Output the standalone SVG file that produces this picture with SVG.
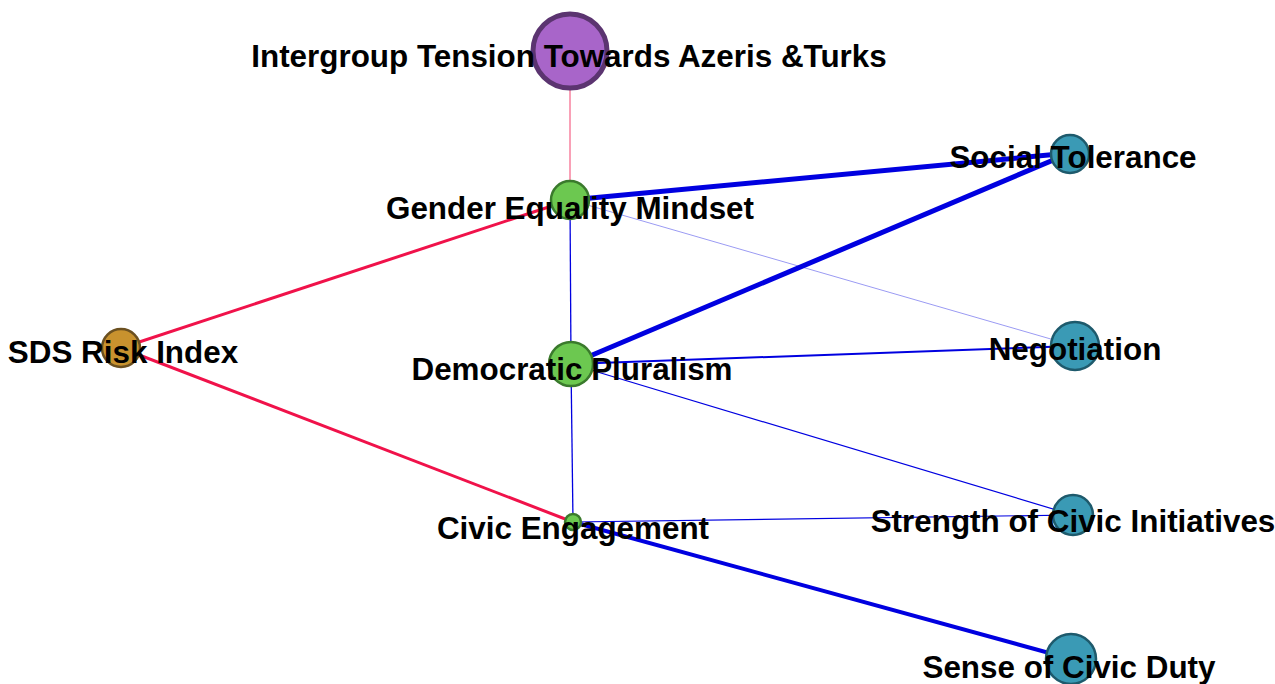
<svg xmlns="http://www.w3.org/2000/svg" width="1275" height="684" viewBox="0 0 1275 684">
<style>
.lbl{font-family:"Liberation Sans",Arial,Helvetica,sans-serif;font-weight:bold;font-size:31.4px;fill:#000;text-anchor:middle}
.red{stroke:#f0124a;fill:none}
.blue{stroke:#0000e0;fill:none}
.green{fill:#6cc850;stroke:#3a7a2c;stroke-width:2.5}
.teal{fill:#3a9ab5;stroke:#1e5a6c;stroke-width:2.5}
</style>
<rect width="1275" height="684" fill="#ffffff"/>
<g id="connectors">
<line class="red" x1="570" y1="51" x2="570" y2="200" stroke-width="0.8" stroke="#ff5a7a"/>
<line class="red" x1="121" y1="348" x2="570" y2="200" stroke-width="3"/>
<line class="red" x1="121" y1="348" x2="573" y2="522" stroke-width="3"/>
<line class="blue" x1="570" y1="200" x2="1070" y2="153" stroke-width="5"/>
<line class="blue" x1="571" y1="364" x2="1070" y2="153" stroke-width="5"/>
<line class="blue" x1="570" y1="200" x2="571" y2="364" stroke-width="1.3"/>
<line class="blue" x1="570" y1="200" x2="1075" y2="346" stroke-width="0.4"/>
<line class="blue" x1="571" y1="364" x2="1075" y2="346" stroke-width="2"/>
<line class="blue" x1="571" y1="364" x2="1073" y2="515" stroke-width="1.2"/>
<line class="blue" x1="571" y1="364" x2="573" y2="522" stroke-width="1.3"/>
<line class="blue" x1="573" y1="522" x2="1073" y2="515" stroke-width="1.2"/>
<line class="blue" x1="573" y1="522" x2="1071" y2="659" stroke-width="4"/>
</g>
<g id="node-intergroup"><circle cx="570" cy="51" r="37" fill="#a865c9" stroke="#5b3470" stroke-width="5"/><text class="lbl" x="569" y="67">Intergroup Tension Towards Azeris &amp;Turks</text></g>
<g id="node-sds"><circle cx="121" cy="348" r="19" fill="#c8922e" stroke="#6b5020" stroke-width="2.5"/><text class="lbl" x="123" y="363">SDS Risk Index</text></g>
<g id="node-gender"><circle class="green" cx="570" cy="200" r="19"/><text class="lbl" x="570" y="219">Gender Equality Mindset</text></g>
<g id="node-democratic"><circle class="green" cx="571" cy="364" r="22"/><text class="lbl" x="572" y="380">Democratic Pluralism</text></g>
<g id="node-civic"><circle class="green" cx="573" cy="522" r="8" stroke-width="1.5"/><text class="lbl" x="573" y="539">Civic Engagement</text></g>
<g id="node-social"><circle class="teal" cx="1070" cy="154" r="19"/><text class="lbl" x="1073" y="168">Social Tolerance</text></g>
<g id="node-negotiation"><circle class="teal" cx="1075" cy="346" r="24"/><text class="lbl" x="1075" y="360">Negotiation</text></g>
<g id="node-strength"><circle class="teal" cx="1073" cy="515" r="20"/><text class="lbl" x="1073" y="532">Strength of Civic Initiatives</text></g>
<g id="node-sense"><circle class="teal" cx="1071" cy="659" r="25"/><text class="lbl" x="1069" y="678">Sense of Civic Duty</text></g>
</svg>
